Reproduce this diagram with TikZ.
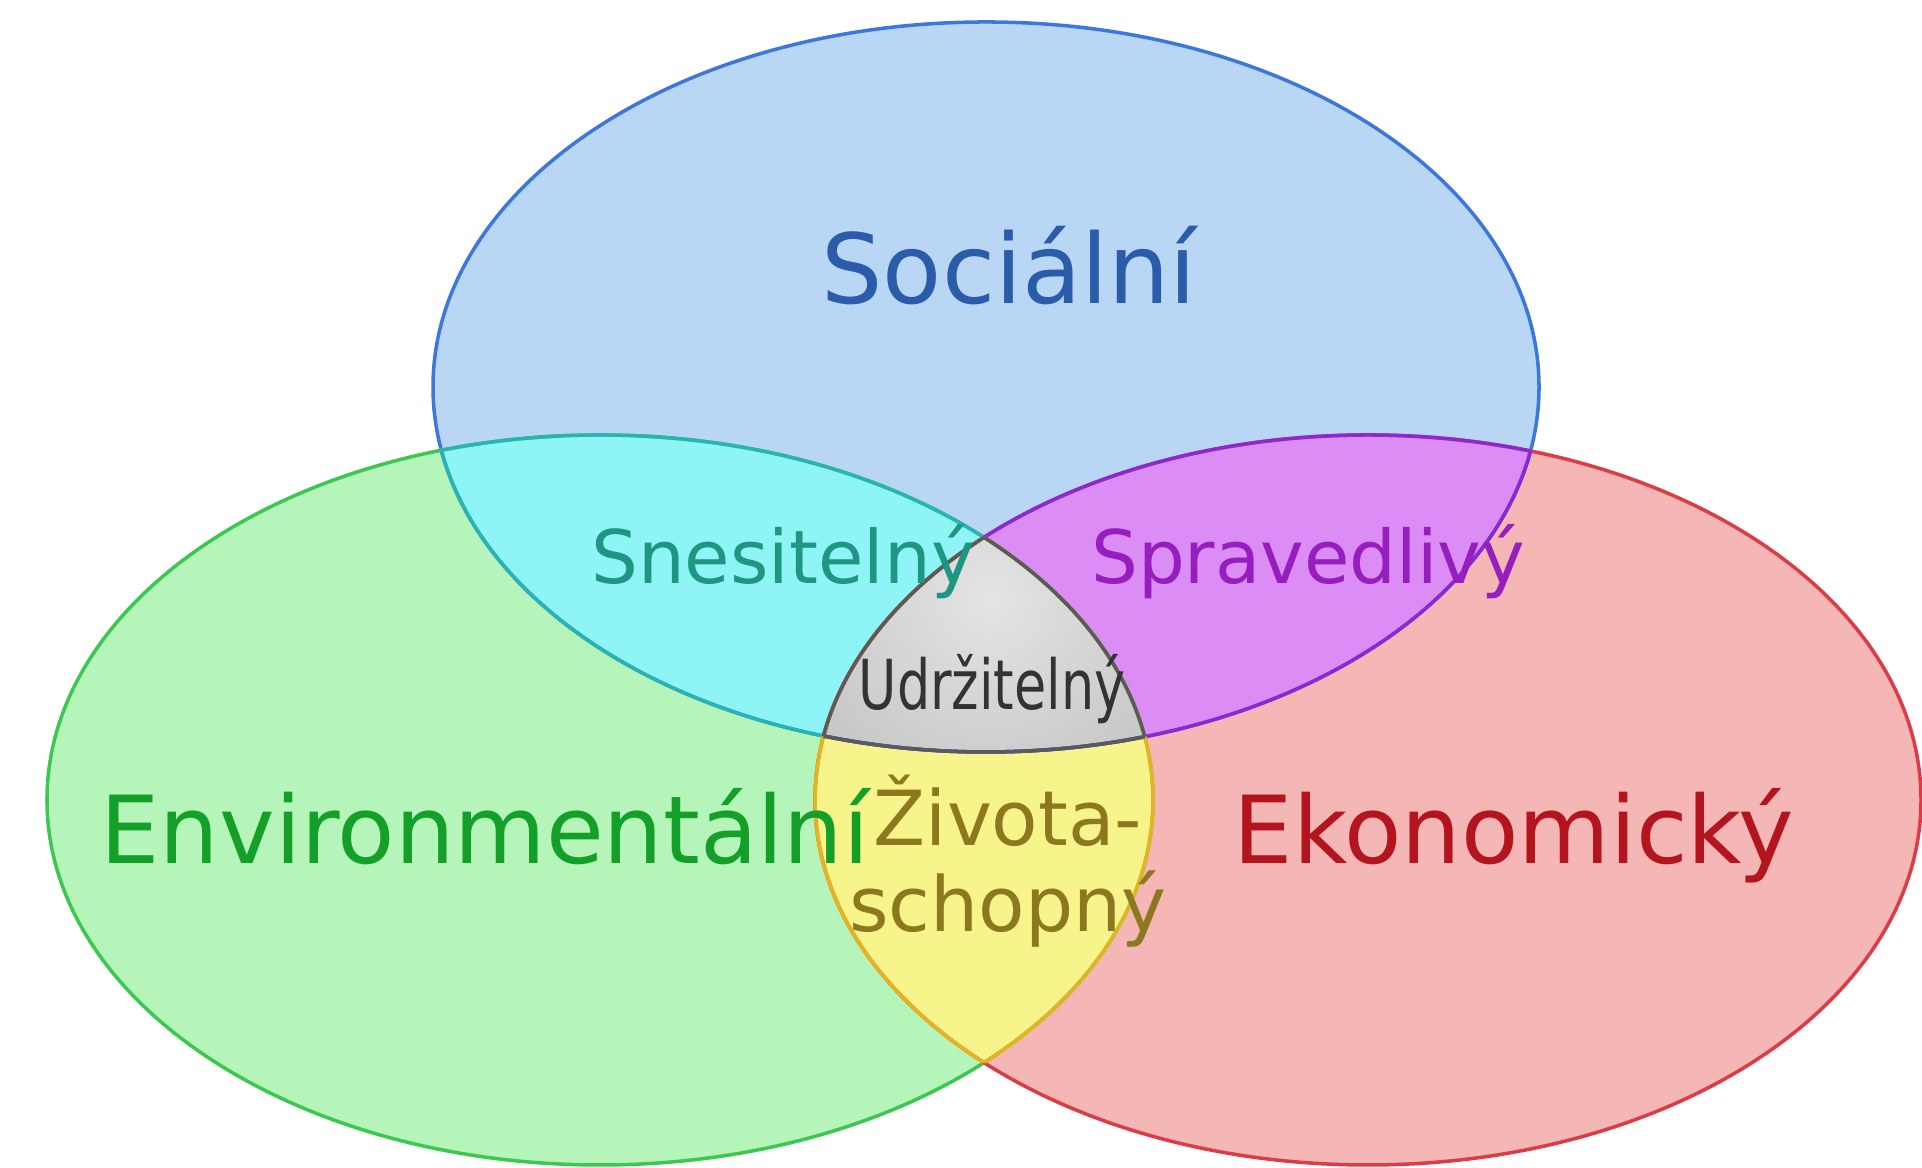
\documentclass[tikz,border=0pt]{standalone}
\usepackage{fontspec}
\setmainfont{DejaVu Sans}
\usepackage{graphicx}
\definecolor{socfill}{HTML}{B9D6F5}
\definecolor{socline}{HTML}{3C78DC}
\definecolor{soctext}{HTML}{2A5CAA}
\definecolor{envfill}{HTML}{B6F5BA}
\definecolor{envline}{HTML}{3CC850}
\definecolor{envtext}{HTML}{14A028}
\definecolor{ekofill}{HTML}{F5B6B6}
\definecolor{ekoline}{HTML}{DC3C46}
\definecolor{ekotext}{HTML}{B4141E}
\definecolor{snesfill}{HTML}{8EF4F6}
\definecolor{snesline}{HTML}{28B4B4}
\definecolor{snestext}{HTML}{1E9682}
\definecolor{spravfill}{HTML}{DC8CF5}
\definecolor{spravline}{HTML}{8C28D2}
\definecolor{spravtext}{HTML}{961EBE}
\definecolor{zivfill}{HTML}{F8F48C}
\definecolor{zivline}{HTML}{E6B41E}
\definecolor{zivtext}{HTML}{8C781E}
\definecolor{udrzfill}{HTML}{BEBEBE}
\definecolor{udrzlight}{HTML}{E4E4E4}
\definecolor{udrzline}{HTML}{5A5A5A}
\definecolor{udrztext}{HTML}{333333}

\begin{document}
\begin{tikzpicture}[x=0.01cm,y=0.01cm,line width=1pt,
  lbl/.style={anchor=base,inner sep=0pt}]
% three sets: S = social (top), E = environment (left), K = economy (right)
\useasboundingbox (0,0) rectangle (1922,1168);
\coordinate (S) at (986,781);
\coordinate (E) at (600,368);
\coordinate (K) at (1368,368);
\def\soc{(S) ellipse [x radius=553,y radius=365]}
\def\env{(E) ellipse [x radius=553,y radius=365]}
\def\eko{(K) ellipse [x radius=553,y radius=365]}
\fill[socfill] \soc;
\fill[envfill] \env;
\fill[ekofill] \eko;
\begin{scope}\clip \soc; \fill[snesfill] \env; \end{scope}
\begin{scope}\clip \soc; \fill[spravfill] \eko; \end{scope}
\begin{scope}\clip \env; \fill[zivfill] \eko; \end{scope}
\begin{scope}\clip \soc; \clip \env; \clip \eko;
  \shade[inner color=udrzlight,outer color=udrzfill] (990,570) circle (270);
\end{scope}
\draw[socline] \soc;
\draw[envline] \env;
\draw[ekoline] \eko;
\begin{scope}\clip \soc; \draw[snesline] \env; \end{scope}
\begin{scope}\clip \env; \draw[snesline] \soc; \end{scope}
\begin{scope}\clip \soc; \draw[spravline] \eko; \end{scope}
\begin{scope}\clip \eko; \draw[spravline] \soc; \end{scope}
\begin{scope}\clip \env; \draw[zivline] \eko; \end{scope}
\begin{scope}\clip \eko; \draw[zivline] \env; \end{scope}
\begin{scope}\clip \soc; \clip \env; \draw[udrzline] \eko; \end{scope}
\begin{scope}\clip \soc; \clip \eko; \draw[udrzline] \env; \end{scope}
\begin{scope}\clip \env; \clip \eko; \draw[udrzline] \soc; \end{scope}
\node[lbl,soctext,font=\fontsize{27.5}{33}\selectfont] (soc) at (1009,864) {Sociální};
\node[lbl,envtext,font=\fontsize{26.7}{32}\selectfont] (env) at (485,304) {Environmentální};
\node[lbl,ekotext,font=\fontsize{26.7}{32}\selectfont] (eko) at (1514,304) {Ekonomický};
\node[lbl,snestext,font=\fontsize{21}{25}\selectfont] (snes) at (783,584) {Snesitelný};
\node[lbl,spravtext,font=\fontsize{21}{25}\selectfont] (sprav) at (1308,584) {Spravedlivý};
\node[lbl,udrztext,font=\fontsize{19.6}{24}\selectfont] (udrz) at (992,458) {\scalebox{0.76}[1]{Udržitelný}};
\node[lbl,zivtext,font=\fontsize{21.6}{24.5}\selectfont,align=center] (ziv) at (1008,236) {Života-\\schopný};
\end{tikzpicture}
\end{document}
